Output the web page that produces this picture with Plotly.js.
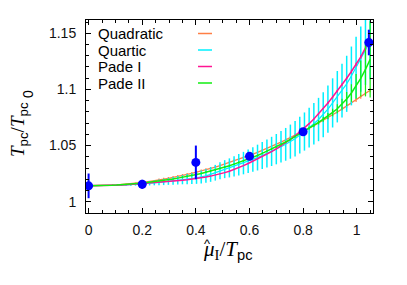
<!DOCTYPE html>
<html><head><meta charset="utf-8">
<script src="https://cdn.plot.ly/plotly-3.0.1.min.js"></script>
<style>html,body{margin:0;padding:0;background:#fff}#chart{width:407px;height:285px}</style>
</head><body><div id="chart"></div>
<script>
// sampling grid of mu_I/T_pc used by the fitted curves
var gridX = [0,0.0175,0.035,0.0525,0.07,0.0875,0.105,0.1225,0.14,0.1575,0.175,0.1925,0.21,0.2275,0.245,0.2625,0.28,0.2975,0.315,0.3325,0.35,0.3675,0.385,0.4025,0.42,0.4375,0.455,0.4725,0.49,0.5075,0.525,0.5425,0.56,0.5775,0.595,0.6125,0.63,0.6475,0.665,0.6825,0.70,0.7175,0.735,0.7525,0.77,0.7875,0.805,0.8225,0.84,0.8575,0.875,0.8925,0.91,0.9275,0.945,0.9625,0.98,0.9975,1.015,1.0325,1.05];

var quadraticY = [1.0142,1.0142,1.0143,1.0144,1.0146,1.0148,1.0150,1.0153,1.0157,1.0160,1.0165,1.0170,1.0175,1.0180,1.0187,1.0193,1.0200,1.0208,1.0216,1.0224,1.0233,1.0243,1.0252,1.0263,1.0273,1.0285,1.0296,1.0309,1.0321,1.0335,1.0348,1.0362,1.0377,1.0392,1.0408,1.0424,1.0440,1.0457,1.0475,1.0493,1.0511,1.0530,1.0550,1.0570,1.0591,1.0612,1.0633,1.0655,1.0678,1.0701,1.0725,1.0749,1.0774,1.0799,1.0825,1.0852,1.0879,1.0906,1.0934,1.0963,1.0992];
var quadraticErr = [0,0,0,0,0,0.0005,0.0005,0.0005,0.0005,0.0005,0.0005,0.0005,0.0005,0.0005,0.0005,0.0013,0.0013,0.0013,0.0013,0.0013,0.0013,0.0013,0.0013,0.0013,0.0013,0.0013,0.0013,0.0013,0.0013,0.0013,0.0013,0.0013,0.0013,0.0013,0.0013,0.0013,0.0013,0.0013,0.0013,0.0013,0.0013,0.0018,0.0018,0.0018,0.0018,0.0018,0.0018,0.0018,0.0018,0.0018,0.0018,0.0018,0.0018,0.0018,0.0018,0.0018,0.0018,0.0018,0.0018,0.0018,0.0018];

var quarticY = [1.0142,1.0142,1.0142,1.0143,1.0144,1.0145,1.0146,1.0148,1.0150,1.0152,1.0155,1.0158,1.0161,1.0164,1.0168,1.0172,1.0176,1.0181,1.0186,1.0191,1.0196,1.0201,1.0206,1.0212,1.0220,1.0230,1.0243,1.0258,1.0276,1.0290,1.0301,1.0315,1.0329,1.0344,1.0360,1.0376,1.0393,1.0411,1.0429,1.0448,1.0468,1.0489,1.0511,1.0535,1.0560,1.0593,1.0625,1.0660,1.0695,1.0732,1.0775,1.0825,1.0880,1.0935,1.0990,1.1050,1.1120,1.1195,1.1270,1.1350,1.1430];
var quarticErr = [0,0.0001,0.0001,0.0002,0.0002,0.0003,0.0005,0.0006,0.0008,0.0010,0.0012,0.0014,0.0017,0.0019,0.0022,0.0025,0.0028,0.0031,0.0034,0.0037,0.0041,0.0045,0.0049,0.0053,0.0057,0.0061,0.0066,0.0070,0.0075,0.0080,0.0085,0.0090,0.0095,0.0100,0.0105,0.0110,0.0115,0.0120,0.0125,0.0130,0.0135,0.0140,0.0146,0.0152,0.0158,0.0164,0.0170,0.0177,0.0185,0.0193,0.0201,0.0210,0.0219,0.0229,0.0239,0.0250,0.0262,0.0275,0.0290,0.0310,0.0340];

var padeIY = [1.0142,1.0142,1.0142,1.0143,1.0144,1.0145,1.0146,1.0148,1.0150,1.0153,1.0156,1.0159,1.0162,1.0165,1.0168,1.0171,1.0174,1.0178,1.0182,1.0186,1.0191,1.0196,1.0201,1.0206,1.0213,1.0220,1.0228,1.0237,1.0247,1.0259,1.0272,1.0287,1.0303,1.0321,1.0340,1.0360,1.0380,1.0401,1.0423,1.0446,1.0470,1.0496,1.0524,1.0554,1.0586,1.0620,1.0656,1.0695,1.0737,1.0782,1.0830,1.0880,1.0932,1.0986,1.1042,1.1100,1.1160,1.1222,1.1290,1.1370,1.1460];
var padeIErr = [0,0,0,0,0,0,0,0,0,0,0,0,0,0,0,0,0,0,0,0,0,0,0,0,0,0,0,0,0,0,0,0,0,0,0,0,0,0,0,0,0.0005,0.0005,0.0005,0.0005,0.0005,0.0005,0.0005,0.0005,0.0005,0.0005,0.0005,0.001,0.001,0.001,0.001,0.001,0.0015,0.0015,0.0015,0.0015,0.0015];

var padeIIY = [1.0142,1.0142,1.0143,1.0144,1.0145,1.0147,1.0149,1.0151,1.0154,1.0157,1.0160,1.0164,1.0168,1.0173,1.0178,1.0184,1.0189,1.0196,1.0202,1.0210,1.0217,1.0225,1.0234,1.0243,1.0252,1.0263,1.0273,1.0284,1.0296,1.0308,1.0321,1.0335,1.0349,1.0364,1.0379,1.0395,1.0412,1.0430,1.0449,1.0468,1.0489,1.0510,1.0532,1.0556,1.0580,1.0606,1.0630,1.0655,1.0680,1.0707,1.0735,1.0763,1.0795,1.0828,1.0868,1.0915,1.0968,1.1028,1.1098,1.1178,1.1268];
var padeIIErr = [0,0,0,0,0,0,0,0,0,0,0,0,0,0,0,0,0,0,0,0,0.0008,0.0008,0.0008,0.0008,0.0008,0.0008,0.0008,0.0008,0.0008,0.0008,0.0008,0.0008,0.0008,0.0008,0.0008,0.0008,0.0008,0.0008,0.0008,0.0008,0.0008,0.0008,0.0008,0.0008,0.0008,0.0010,0.0011,0.0013,0.0015,0.0018,0.0022,0.0027,0.0033,0.0041,0.0050,0.0062,0.0078,0.0110,0.0160,0.0240,0.0340];

// lattice data points
var dataX = [0, 0.2, 0.4, 0.6, 0.8, 1.045];
var dataY = [1.0141, 1.0155, 1.035, 1.0404, 1.0623, 1.1418];
var dataErr = [0.011, 0.004, 0.015, 0.003, 0.003, 0.0114];

var xTicks = [0, 0.2, 0.4, 0.6, 0.8, 1];
var xTickText = ['0', '0.2', '0.4', '0.6', '0.8', '1'];
var yTicks = [1, 1.05, 1.1, 1.15];
var yTickText = ['1', '1.05', '1.1', '1.15'];

var seriesNames = ['Quadratic', 'Quartic', 'Pade I', 'Pade II'];
var seriesColors = ['#ff7f45', '#00f0ff', '#ff1493', '#11ee11'];

var L = 86, R = 373, T = 20, B = 213, W = 407, H = 285;
function px(x){ return (x - L) / (R - L); }
function py(y){ return (B - y) / (B - T); }

function curve(y, err, color, w, bw){
  return {x: gridX, y: y, mode: 'lines', line: {color: color, width: w},
    error_y: {type: 'data', array: err, visible: true, color: color, thickness: bw, width: 0},
    showlegend: false, hoverinfo: 'skip'};
}

var traces = [
  curve(quadraticY, quadraticErr, seriesColors[0], 1.3, 1.2),
  curve(quarticY, quarticErr, seriesColors[1], 1.2, 1.5),
  curve(padeIY, padeIErr, seriesColors[2], 1.5, 1.2),
  curve(padeIIY, padeIIErr, seriesColors[3], 1.5, 1.2),
  {x: dataX, y: dataY, mode: 'markers', marker: {color: '#0000ff', size: 9},
   error_y: {type: 'data', array: dataErr, visible: true, color: '#0000ff', thickness: 2, width: 0},
   showlegend: false}
];

var annotations = [];
var shapes = [];
var legY = [33.5, 50, 66.5, 83];
for (var i = 0; i < seriesNames.length; i++) {
  annotations.push({xref: 'paper', yref: 'paper', x: px(96), y: py(legY[i]), xanchor: 'left', yanchor: 'middle',
    text: seriesNames[i], showarrow: false, font: {family: 'Liberation Sans, Arial, sans-serif', size: 15, color: '#000'}});
  shapes.push({type: 'line', xref: 'paper', yref: 'paper', x0: px(198), x1: px(212), y0: py(legY[i]), y1: py(legY[i]),
    line: {color: seriesColors[i], width: 1.5}});
}
// axis titles
annotations.push({xref: 'paper', yref: 'paper', x: px(228), y: py(250), xanchor: 'center', yanchor: 'middle', showarrow: false,
  text: '<i>\u03bc</i><sub>I</sub>/<i>T</i><sub><span style="font-family:Liberation Sans">pc</span></sub>',
  font: {family: 'Liberation Serif, Times New Roman, serif', size: 21, color: '#000'}});
annotations.push({xref: 'paper', yref: 'paper', x: px(207), y: py(243), xanchor: 'center', yanchor: 'middle', showarrow: false,
  text: '^', font: {family: 'Liberation Sans, Arial, sans-serif', size: 13, color: '#000'}});
annotations.push({xref: 'paper', yref: 'paper', x: px(19), y: py(130), xanchor: 'center', yanchor: 'middle', showarrow: false, textangle: -90,
  text: '<i>T</i><sub><span style="font-family:Liberation Sans">pc</span></sub>/<i>T</i><sub><span style="font-family:Liberation Sans">pc</span></sub>',
  font: {family: 'Liberation Serif, Times New Roman, serif', size: 19, color: '#000'}});
annotations.push({xref: 'paper', yref: 'paper', x: px(28), y: py(94), xanchor: 'center', yanchor: 'middle', showarrow: false, textangle: -90,
  text: '0', font: {family: 'Liberation Sans, Arial, sans-serif', size: 14, color: '#000'}});

var axisCommon = {showline: true, linecolor: '#000', linewidth: 1, mirror: 'allticks', ticks: 'inside',
  tickcolor: '#000', showgrid: false, zeroline: false,
  tickfont: {family: 'Liberation Sans, Arial, sans-serif', size: 14, color: '#111'}};

var layout = {
  width: W, height: H,
  margin: {l: L, r: W - R, t: T, b: H - B, pad: 0},
  paper_bgcolor: '#fff', plot_bgcolor: '#fff',
  showlegend: false,
  xaxis: Object.assign({}, axisCommon, {range: [-0.0097, 1.0606], tickmode: 'array', tickvals: xTicks, ticktext: xTickText,
    ticklen: 5, ticklabelstandoff: 4, minor: {dtick: 0.05, tick0: 0, ticks: 'inside', ticklen: 3, tickcolor: '#000'}}),
  yaxis: Object.assign({}, axisCommon, {range: [0.98994, 1.16184], tickmode: 'array', tickvals: yTicks, ticktext: yTickText,
    ticklen: 5, ticklabelstandoff: 6, minor: {dtick: 0.01, tick0: 1, ticks: 'inside', ticklen: 3, tickcolor: '#000'}}),
  annotations: annotations,
  shapes: shapes
};

Plotly.newPlot('chart', traces, layout, {staticPlot: true, displayModeBar: false});
</script>
</body></html>
